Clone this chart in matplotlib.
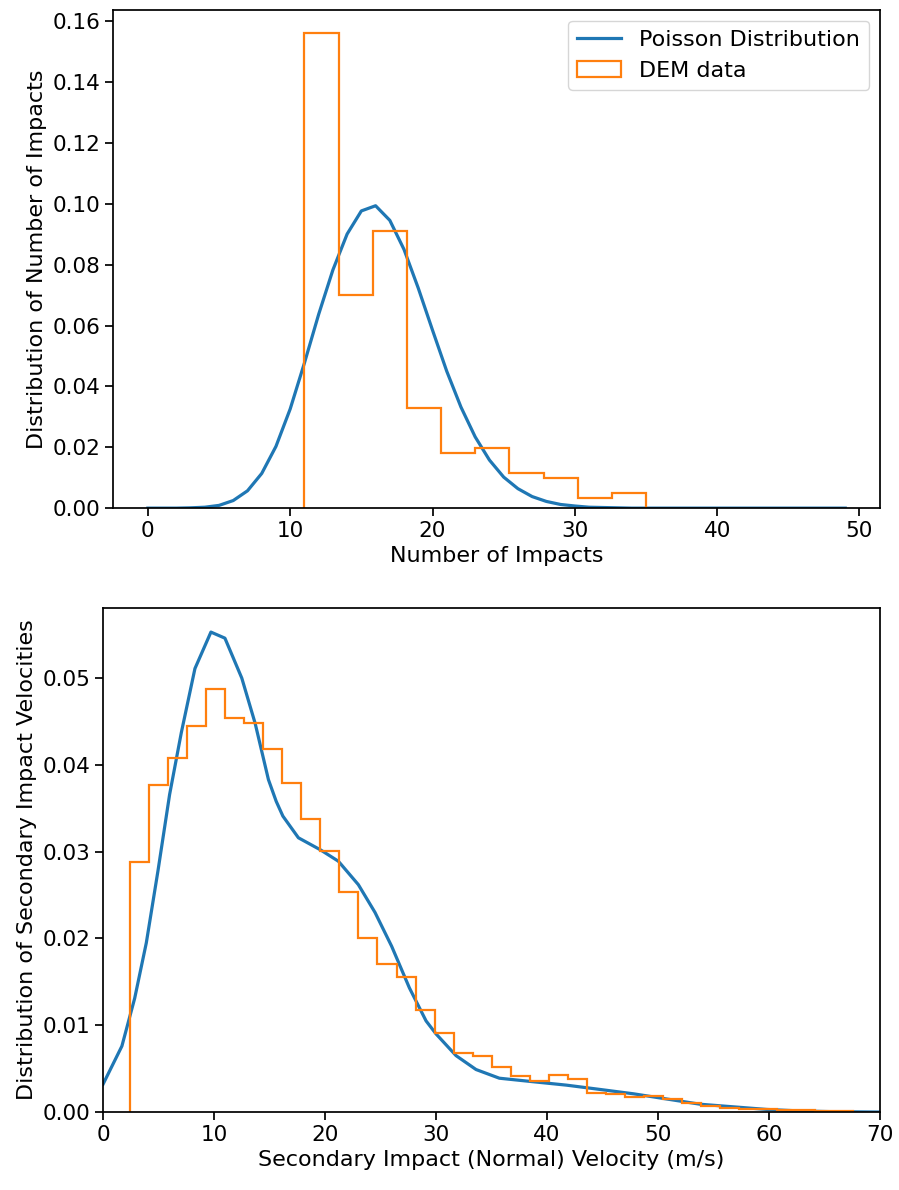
import matplotlib.pyplot as plt
import numpy as np

# number of impacts: fitted Poisson pmf and DEM histogram (density)
n_impacts = np.arange(50)
poisson_pmf = [0.0, 0.0, 0.0, 0.0001, 0.0003, 0.0009, 0.0025, 0.0057, 0.0114, 0.0203,
               0.0326, 0.0477, 0.0637, 0.0783, 0.0901, 0.0977, 0.0994, 0.0946, 0.0850, 0.0723,
               0.0585, 0.0450, 0.0332, 0.0234, 0.0158, 0.0102, 0.0064, 0.0038, 0.0022, 0.0012,
               0.0007, 0.0003, 0.0002, 0.0001, 0.0, 0.0, 0.0, 0.0, 0.0, 0.0,
               0.0, 0.0, 0.0, 0.0, 0.0, 0.0, 0.0, 0.0, 0.0, 0.0]
impact_edges = np.linspace(11, 35, 11)
impact_density = [0.1561, 0.0702, 0.0911, 0.0328, 0.0181, 0.0197, 0.0114, 0.0098, 0.0033, 0.0050]

# secondary impact normal velocity: smoothed curve and DEM histogram (density)
vel_x = [0.0, 1.7, 2.85, 3.9, 4.95, 6.0, 7.05, 8.28, 9.72, 10.98, 12.5, 13.7, 14.9, 15.6,
         16.2, 17.6, 19.6, 21.2, 23.0, 24.5, 26.0, 27.6, 29.1, 30.0, 31.8, 33.6,
         35.7, 38.7, 41.75, 44.8, 47.8, 50.8, 53.8, 56.8, 59.8, 62.9, 65.9, 70.0]
vel_curve = [0.0032, 0.0076, 0.0131, 0.0195, 0.0278, 0.0366, 0.0437, 0.0511, 0.0553, 0.0546,
             0.0500, 0.0448, 0.0383, 0.0358, 0.0341, 0.0316, 0.0302, 0.0289, 0.0262, 0.0230,
             0.0191, 0.0143, 0.0105, 0.0090, 0.0065, 0.0049, 0.0039, 0.0035, 0.0031, 0.0026,
             0.0021, 0.0015, 0.0009, 0.0006, 0.0003, 0.00012, 0.00004, 0.0]
vel_edges = 2.44 + 1.714 * np.arange(39)
vel_density = [0.0288, 0.0377, 0.0408, 0.0445, 0.0488, 0.0454, 0.0448, 0.0418, 0.0379, 0.0338,
               0.0301, 0.0254, 0.0200, 0.0171, 0.0156, 0.0118, 0.0091, 0.0068, 0.0065, 0.0052,
               0.0041, 0.0036, 0.0043, 0.0038, 0.0022, 0.0021, 0.0017, 0.0019, 0.0015, 0.0010,
               0.0007, 0.0005, 0.0003, 0.0003, 0.0002, 0.0002, 0.0001, 0.0001]

plt.rcParams['font.family'] = ['DejaVu Sans']
plt.rcParams['font.size'] = 15.5
plt.rcParams['axes.linewidth'] = 1.25
plt.rcParams['xtick.major.width'] = 1.25
plt.rcParams['ytick.major.width'] = 1.25
plt.rcParams['xtick.major.size'] = 5.5
plt.rcParams['ytick.major.size'] = 5.5

fig = plt.figure(figsize=(8.99, 11.9), dpi=100)

ax1 = fig.add_axes([0.1257, 0.573, 0.8533, 0.419])
ax1.plot(n_impacts, poisson_pmf, color='#1f77b4', lw=2.3, label='Poisson Distribution')
centers = (impact_edges[:-1] + impact_edges[1:]) / 2
ax1.hist(centers, bins=impact_edges, weights=impact_density, histtype='step',
         color='#ff7f0e', lw=1.6, label='DEM data')
ax1.set_ylim(bottom=0)
ax1.set_yticks(np.arange(0, 0.161, 0.02))
ax1.set_xlabel('Number of Impacts', fontsize=16)
ax1.set_ylabel('Distribution of Number of Impacts', fontsize=16)
ax1.legend(loc='upper right', fontsize=16)

ax2 = fig.add_axes([0.1146, 0.0655, 0.8644, 0.4235])
ax2.plot(vel_x, vel_curve, color='#1f77b4', lw=2.3)
vcenters = (vel_edges[:-1] + vel_edges[1:]) / 2
ax2.hist(vcenters, bins=vel_edges, weights=vel_density, histtype='step',
         color='#ff7f0e', lw=1.6)
ax2.set_xlim(0, 70)
ax2.set_ylim(bottom=0)
ax2.set_xlabel('Secondary Impact (Normal) Velocity (m/s)', fontsize=16)
ax2.set_ylabel('Distribution of Secondary Impact Velocities', fontsize=16)

fig.savefig('out.png', dpi=100)
